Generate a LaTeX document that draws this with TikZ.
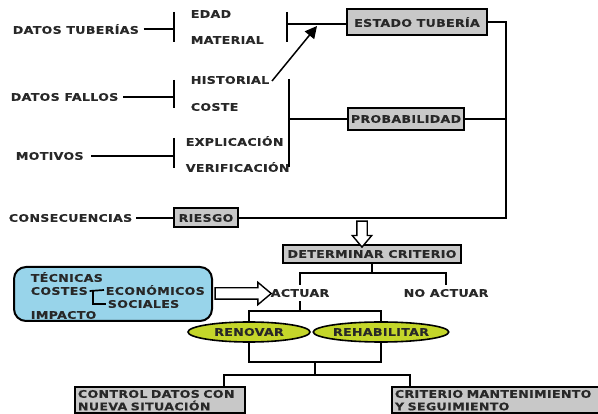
\documentclass[tikz,border=0pt]{standalone}
\usepackage{fontspec}
\setmainfont{DejaVu Sans}[FakeStretch=1.2,LetterSpace=3,FakeBold=0.4]
\usetikzlibrary{shapes.geometric,shapes.arrows,arrows.meta}
\definecolor{grisCaja}{RGB}{200,200,200}
\definecolor{azulCaja}{RGB}{152,212,234}
\definecolor{verdeElipse}{RGB}{196,214,42}
\definecolor{textoOscuro}{RGB}{40,40,40}
\tikzset{
	etiqueta/.style={anchor=west, inner sep=0pt},
	caja/.style={draw, line width=2pt, fill=grisCaja, inner sep=3pt},
	elipse/.style={ellipse, draw, line width=1.6pt, fill=verdeElipse, inner sep=0pt, minimum height=20pt},
	flecha/.style={single arrow, draw, fill=white, line width=1.4pt, inner xsep=0pt, inner ysep=5pt, single arrow head extend=5.5pt, single arrow tip angle=80}
}
\begin{document}
\begin{tikzpicture}[x=1pt, y=-1pt, line width=1.7pt, every node/.style={font=\bfseries\fontsize{10.5}{14}\selectfont, text=textoOscuro}]
	\useasboundingbox (0,0) rectangle (598,414);

	\node[etiqueta] (tuberias) at (12,29) {DATOS TUBERÍAS};
	\node[etiqueta] (edad) at (190,14) {EDAD};
	\node[etiqueta] (material) at (190,40) {MATERIAL};
	\node[etiqueta] (fallos) at (10,97) {DATOS FALLOS};
	\node[etiqueta] (historial) at (190,80) {HISTORIAL};
	\node[etiqueta] (coste) at (190,107) {COSTE};
	\node[etiqueta] (motivos) at (15,156) {MOTIVOS};
	\node[etiqueta] (explicacion) at (185,141) {EXPLICACIÓN};
	\node[etiqueta] (verificacion) at (185,167) {VERIFICACIÓN};
	\node[etiqueta] (consecuencias) at (8,218) {CONSECUENCIAS};

	\node[caja, minimum width=140pt, minimum height=26pt] (estado) at (417,22) {ESTADO TUBERÍA};
	\node[caja, minimum width=116pt, minimum height=22pt] (probabilidad) at (406,119) {PROBABILIDAD};
	\node[caja, minimum width=64pt, minimum height=19pt] (riesgo) at (206,218) {RIESGO};
	\node[caja, minimum width=178pt, minimum height=18pt] (determinar) at (372,254) {DETERMINAR CRITERIO};

	\coordinate (llaveTub) at (174,27);
	\coordinate (llaveEstado) at (287,24);
	\coordinate (llaveFallos) at (174,97);
	\coordinate (llaveProb) at (289,119);
	\coordinate (llaveMotivos) at (174,155);
	\coordinate (esquina) at (506,218);
	\coordinate (punta) at (317,26);
	\coordinate (bajada) at (362,218);

	\foreach \x/\ya/\yb in {174/12/42, 287/12/42, 174/80/108, 289/79/167, 174/138/168}
		\draw (\x,\ya) -- (\x,\yb);

	\draw ([xshift=4pt]tuberias.east) -- (tuberias.east -| llaveTub);
	\draw ([xshift=4pt]fallos.east) -- (fallos.east -| llaveFallos);
	\draw ([xshift=7pt]motivos.east) -- (motivos.east -| llaveMotivos);
	\draw (llaveEstado) -- (llaveEstado -| estado.west);
	\draw (llaveProb) -- (probabilidad.west);
	\draw (estado.east) -| (esquina) -- (riesgo.east);
	\draw (probabilidad.east) -- (probabilidad.east -| esquina);
	\draw ([xshift=3pt]consecuencias.east) -- (riesgo.west);
	\draw[line width=1.5pt, -{Triangle[length=12pt, width=12pt]}] ([xshift=2pt, yshift=-1pt]historial.east) -- (punta);
	\path (bajada) -- (bajada |- determinar.north) node[midway, flecha, shape border rotate=270, minimum height=26pt, inner xsep=4.5pt, inner ysep=0pt, single arrow head extend=4.5pt] (flechaCriterio) {};

	\node[draw, line width=2pt, rounded corners=12pt, fill=azulCaja, minimum width=198pt, minimum height=54pt] (tecnicas) at (113,294) {};
	\node[etiqueta] (tec) at (30,277) {TÉCNICAS};
	\node[etiqueta] (costes) at (30,291) {COSTES};
	\node[etiqueta] (economicos) at (105,290) {ECONÓMICOS};
	\node[etiqueta] (sociales) at (107,304) {SOCIALES};
	\node[etiqueta] (impacto) at (30,315) {IMPACTO};
	\coordinate (llaveCostes) at (93,290);
	\draw ([xshift=1pt]costes.east) -- ([xshift=-1pt]economicos.west);
	\draw (llaveCostes) |- ([xshift=-1pt]sociales.west);

	\node (actuar) at (300,293) {ACTUAR};
	\node (noactuar) at (446,293) {NO ACTUAR};
	\path (tecnicas.east) -- (actuar.west) node[midway, flecha, minimum height=56pt] (flechaActuar) {};

	\node[elipse, minimum width=122pt] (renovar) at (249,332) {RENOVAR};
	\node[elipse, minimum width=130pt] (rehabilitar) at (381,332) {REHABILITAR};

	\node[caja, anchor=north west, text width=164pt, align=left, font=\bfseries\fontsize{10.5}{12.5}\selectfont] (control) at (74,386) {CONTROL DATOS CON\\NUEVA SITUACIÓN};
	\node[caja, anchor=north west, text width=215pt, align=left, font=\bfseries\fontsize{10.5}{12.5}\selectfont] (mantenimiento) at (391,386) {CRITERIO MANTENIMIENTO\\Y SEGUIMIENTO};

	\coordinate (rama) at (0,273);
	\coordinate (ramaElipses) at (0,311);
	\coordinate (union) at (315,362);
	\coordinate (bajaA) at (224,375);
	\coordinate (bajaB) at (410,375);

	\draw (determinar.south) -- (determinar.south |- rama);
	\draw (actuar.north) |- (rama -| noactuar.north) -- (noactuar.north);
	\draw (actuar.south) -- (actuar.south |- ramaElipses);
	\draw (renovar.north) |- (ramaElipses -| rehabilitar.north) -- (rehabilitar.north);
	\draw (renovar.south) |- (union -| rehabilitar.south) -- (rehabilitar.south);
	\draw (union) -- (union |- bajaA);
	\draw (bajaA |- control.north) |- (bajaB) -- (bajaB |- mantenimiento.north);
\end{tikzpicture}
\end{document}
